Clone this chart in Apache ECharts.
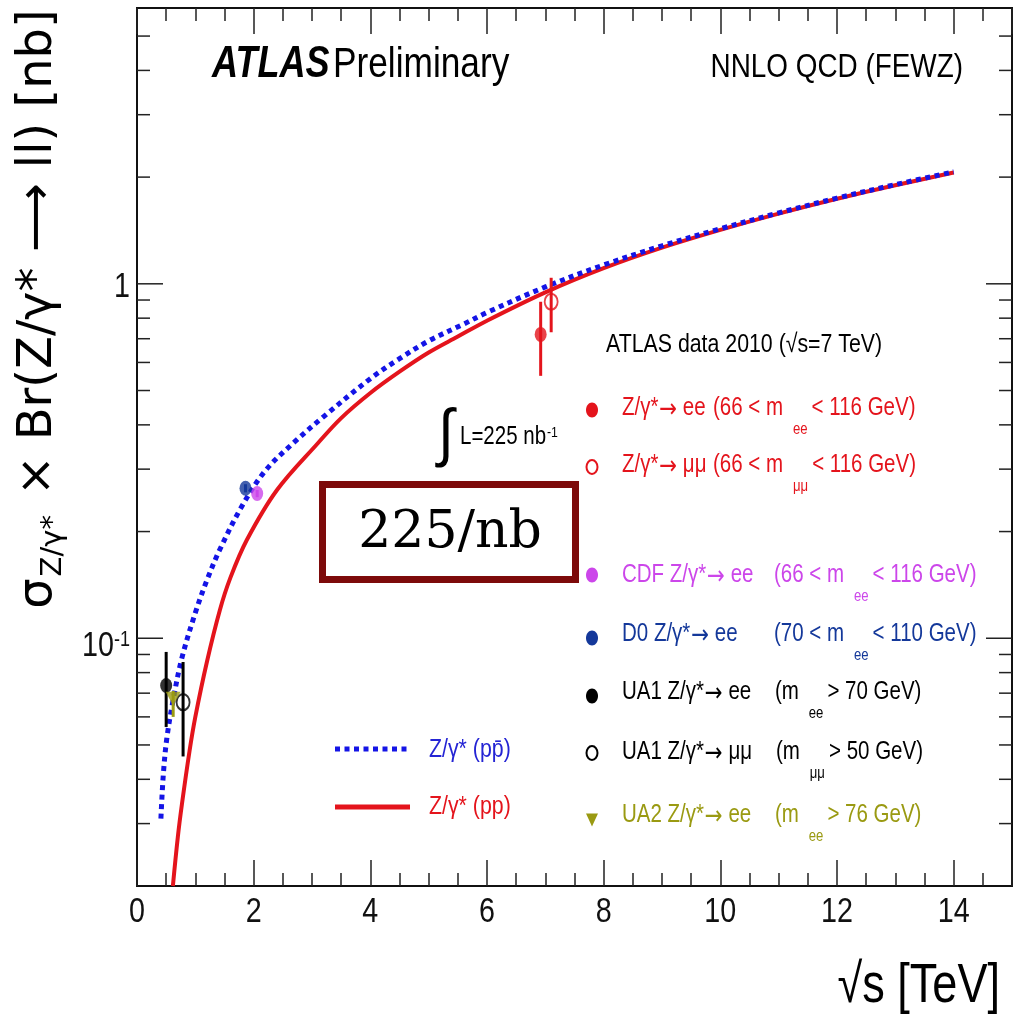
<!DOCTYPE html>
<html>
<head>
<meta charset="utf-8">
<script src="https://cdn.jsdelivr.net/npm/echarts@6/dist/echarts.min.js"></script>
<style>
  html, body { margin: 0; padding: 0; background: #fff; }
  #chart { width: 1024px; height: 1021px; }
</style>
</head>
<body>
<div id="chart"></div>
<script>
// NNLO QCD (FEWZ) predictions: sqrt(s) [TeV] vs sigma x BR(Z/gamma* -> ll) [nb]
const ppSqrtS    = [0.615, 0.70, 0.77, 0.90, 1.00, 1.20, 1.42, 1.60, 1.88, 2.40, 3.10, 3.50, 4.00, 4.50, 5.00, 5.50, 6.00, 7.00, 8.00, 9.00, 10.0, 11.0, 12.0, 13.0, 14.0];
const ppSigma    = [0.020, 0.0275, 0.034, 0.048, 0.060, 0.086, 0.120, 0.148, 0.189, 0.262, 0.355, 0.418, 0.492, 0.565, 0.640, 0.710, 0.787, 0.946, 1.107, 1.265, 1.420, 1.578, 1.738, 1.897, 2.060];
const ppbarSqrtS = [0.41, 0.45, 0.51, 0.62, 0.77, 1.00, 1.20, 1.42, 1.80, 2.20, 2.70, 3.20, 4.00, 4.50, 5.00, 5.60, 6.00, 7.00, 8.00, 9.00, 10.0, 11.0, 12.0, 13.0, 14.0];
const ppbarSigma = [0.031, 0.041, 0.052, 0.067, 0.088, 0.118, 0.146, 0.178, 0.236, 0.297, 0.358, 0.422, 0.540, 0.615, 0.690, 0.770, 0.830, 0.980, 1.130, 1.280, 1.430, 1.585, 1.745, 1.905, 2.070];

// Measurements (points are drawn slightly displaced in sqrt(s) for readability)
const expNames   = ['ATLAS ee', 'ATLAS mumu', 'CDF ee', 'D0 ee', 'UA1 ee', 'UA1 mumu', 'UA2 ee'];
const expSqrtS   = [6.92, 7.10, 2.06, 1.86, 0.50, 0.79, 0.62];
const expSigma   = [0.720, 0.890, 0.256, 0.265, 0.0736, 0.0660, 0.0675];
const expErrLow  = [0.550, 0.730, 0.250, 0.258, 0.0562, 0.0464, 0.0600];
const expErrHigh = [0.890, 1.040, 0.262, 0.272, 0.0915, 0.0857, 0.0710];

// Axis ticks and labels
const xTickValues  = [0, 2, 4, 6, 8, 10, 12, 14];
const xTickLabels  = ['0', '2', '4', '6', '8', '10', '12', '14'];
const yMajorTicks  = [0.1, 1];
const yTickLabels  = ['{n|10}{sup|-1}', '{n|1}'];
const yMinorTicks  = [0.03, 0.04, 0.05, 0.06, 0.07, 0.08, 0.09,
                      0.2, 0.3, 0.4, 0.5, 0.6, 0.7, 0.8, 0.9,
                      2, 3, 4, 5];

const X_MIN = 0, X_MAX = 15, Y_MIN = 0.02, Y_MAX = 6;

const SANS = "'Liberation Sans', Arial, sans-serif";
const CONDENSE = 0.82;   // horizontal squeeze for the condensed Helvetica look
const RED = '#e4141c', BLUE = '#1414e6', MAGENTA = '#cc46ea', D0BLUE = '#14389a', OLIVE = '#9a9a12';

const expStyle = [
  { color: RED,     symbol: 'circle', open: false },
  { color: RED,     symbol: 'circle', open: true  },
  { color: MAGENTA, symbol: 'circle', open: false },
  { color: D0BLUE,  symbol: 'circle', open: false },
  { color: '#000',  symbol: 'circle', open: false },
  { color: '#000',  symbol: 'circle', open: true  },
  { color: OLIVE,   symbol: 'triangle', open: false, rotate: 180 }
];
const yLabelShift = [8.5, 4.5];   // label baseline nudges for 10^-1 and 1

const chart = echarts.init(document.getElementById('chart'), null, { renderer: 'canvas', width: 1024, height: 1021 });

function xAxisDef(position, interval, tickLen) {
  return {
    type: 'value', min: X_MIN, max: X_MAX, interval: interval, position: position,
    axisLine: { show: false },
    splitLine: { show: false },
    axisLabel: { show: false },
    axisTick: { show: true, inside: true, length: tickLen, lineStyle: { color: '#222', width: 1.5 } }
  };
}

// Tick marks of the logarithmic axis, drawn on the left and right frame edges
function yTickSeries(values, len) {
  return {
    type: 'custom', coordinateSystem: 'cartesian2d', xAxisIndex: 0, yAxisIndex: 0,
    silent: true, clip: false, z: 5,
    data: values.map(v => [X_MIN, v]),
    encode: { x: 0, y: 1 },
    renderItem: (params, api) => {
      const v = api.value(1);
      const l = api.coord([X_MIN, v]);
      const r = api.coord([X_MAX, v]);
      const st = { stroke: '#222', lineWidth: 1.5 };
      return { type: 'group', children: [
        { type: 'line', shape: { x1: l[0], y1: l[1], x2: l[0] + len, y2: l[1] }, style: st },
        { type: 'line', shape: { x1: r[0] - len, y1: r[1], x2: r[0], y2: r[1] }, style: st }
      ] };
    }
  };
}

// Tick labels in a condensed face
const xLabelSeries = {
  type: 'custom', coordinateSystem: 'cartesian2d', xAxisIndex: 0, yAxisIndex: 0,
  silent: true, clip: false, z: 5,
  data: xTickValues.map(v => [v, Y_MIN]),
  encode: { x: 0, y: 1 },
  renderItem: (params, api) => {
    const p = api.coord([api.value(0), Y_MIN]);
    return { type: 'text', x: p[0], y: p[1] + 26, scaleX: CONDENSE,
      style: { text: xTickLabels[params.dataIndex], font: '35px ' + SANS, fill: '#111',
               align: 'center', textAlign: 'center', verticalAlign: 'middle', textVerticalAlign: 'middle' } };
  }
};

const yLabelSeries = {
  type: 'custom', coordinateSystem: 'cartesian2d', xAxisIndex: 0, yAxisIndex: 0,
  silent: true, clip: false, z: 5,
  data: yMajorTicks.map(v => [X_MIN, v]),
  encode: { x: 0, y: 1 },
  renderItem: (params, api) => {
    const p = api.coord([X_MIN, api.value(1)]);
    return { type: 'text', x: p[0] - 7, y: p[1] + yLabelShift[params.dataIndex], scaleX: CONDENSE,
      style: { text: yTickLabels[params.dataIndex],
               align: 'right', textAlign: 'right', verticalAlign: 'middle', textVerticalAlign: 'middle',
               rich: {
                 n:   { fontSize: 35, fontFamily: SANS, fill: '#111', color: '#111', lineHeight: 36, verticalAlign: 'top' },
                 sup: { fontSize: 22, fontFamily: SANS, fill: '#111', color: '#111', lineHeight: 16, verticalAlign: 'top' }
               } } };
  }
};

const errorBarSeries = {
  type: 'custom', coordinateSystem: 'cartesian2d', xAxisIndex: 0, yAxisIndex: 0,
  silent: true, z: 6,
  data: expSqrtS.map((x, i) => [x, expErrLow[i], expErrHigh[i]]),
  encode: { x: 0, y: [1, 2] },
  renderItem: (params, api) => {
    const x = api.value(0);
    const lo = api.coord([x, api.value(1)]);
    const hi = api.coord([x, api.value(2)]);
    return { type: 'line', shape: { x1: lo[0], y1: lo[1], x2: hi[0], y2: hi[1] },
             style: { stroke: expStyle[params.dataIndex].color, lineWidth: 3 } };
  }
};

const pointSeries = expNames.map((name, i) => {
  const s = expStyle[i];
  return {
    name: name, type: 'scatter', xAxisIndex: 0, yAxisIndex: 0, z: 7,
    symbol: s.symbol, symbolRotate: s.rotate || 0,
    symbolSize: s.symbol === 'triangle' ? [15, 14] : (s.open ? [13, 16] : [12, 15]),
    itemStyle: s.open ? { color: 'rgba(0,0,0,0)', borderColor: s.color, borderWidth: 2 }
                      : { color: s.color },
    data: [[expSqrtS[i], expSigma[i]]]
  };
});

// ---------- text annotations ----------
function txt(x, y, text, o) {
  o = o || {};
  return {
    type: 'text', z: 20, silent: true, x: x, y: y,
    scaleX: o.scaleX === undefined ? CONDENSE : o.scaleX,
    style: {
      x: 0, y: 0, text: text,
      fill: o.color || '#000',
      font: (o.style || 'normal') + ' ' + (o.weight || 'normal') + ' ' + (o.size || 25) + 'px ' + (o.family || SANS),
      align: o.align || 'left', textAlign: o.align || 'left',
      verticalAlign: 'middle', textVerticalAlign: 'middle'
    }
  };
}

// legend line; "sub" fragments hang below the baseline, "a" is the arrow
function richRow(x, yCenter, parts, color) {
  const text = parts.map(p => '{' + p[0] + '|' + p[1] + '}').join('');
  return {
    type: 'text', z: 20, silent: true, x: x, y: yCenter - 14, scaleX: CONDENSE,
    style: {
      x: 0, y: 0, text: text,
      align: 'left', textAlign: 'left', verticalAlign: 'top', textVerticalAlign: 'top',
      rich: {
        t:   { fontSize: 25, fontFamily: SANS, fill: color, color: color, lineHeight: 28, verticalAlign: 'top' },
        a:   { fontSize: 26, fontFamily: "'DejaVu Sans', sans-serif", fill: color, color: color, lineHeight: 28, verticalAlign: 'top', padding: [1, 0, 0, 1] },
        sub: { fontSize: 16, fontFamily: SANS, fill: color, color: color, lineHeight: 18, verticalAlign: 'top', padding: [26, 5, 0, 12] }
      }
    }
  };
}

function marker(cx, cy, color, kind) {
  if (kind === 'tri') {
    return { type: 'polygon', z: 20, silent: true,
             shape: { points: [[cx - 6, cy - 6.5], [cx + 6, cy - 6.5], [cx, cy + 6.5]] },
             style: { fill: color } };
  }
  return { type: 'ellipse', z: 20, silent: true,
           shape: { cx: cx, cy: cy, rx: kind === 'open' ? 5.5 : 6, ry: kind === 'open' ? 7 : 7.5 },
           style: kind === 'open' ? { fill: 'none', stroke: color, lineWidth: 2 } : { fill: color } };
}

const ARROW_EE = [['t', 'Z/γ*'], ['a', '→'], ['t', ' ee']];
const ARROW_MM = [['t', 'Z/γ*'], ['a', '→'], ['t', ' μμ']];

const graphics = [
  txt(212, 65, 'ATLAS', { size: 44, weight: 'bold', style: 'italic' }),
  txt(333, 65, 'Preliminary', { size: 43 }),
  txt(963, 68, 'NNLO QCD (FEWZ)', { size: 34, align: 'right' }),

  txt(606, 345, 'ATLAS data 2010 (√s=7 TeV)', { size: 26 }),

  marker(592, 410, RED, 'fill'),
  richRow(622, 410, ARROW_EE, RED),
  richRow(713, 410, [['t', '(66 < m'], ['sub', 'ee'], ['t', '< 116 GeV)']], RED),

  marker(592, 467, RED, 'open'),
  richRow(622, 467, ARROW_MM, RED),
  richRow(713, 467, [['t', '(66 < m'], ['sub', 'μμ'], ['t', '< 116 GeV)']], RED),

  marker(592, 575, MAGENTA, 'fill'),
  richRow(622, 577, [['t', 'CDF ']].concat(ARROW_EE), MAGENTA),
  richRow(774, 577, [['t', '(66 < m'], ['sub', 'ee'], ['t', '< 116 GeV)']], MAGENTA),

  marker(592, 638, D0BLUE, 'fill'),
  richRow(622, 636, [['t', 'D0 ']].concat(ARROW_EE), D0BLUE),
  richRow(774, 636, [['t', '(70 < m'], ['sub', 'ee'], ['t', '< 110 GeV)']], D0BLUE),

  marker(592, 696, '#000', 'fill'),
  richRow(622, 694, [['t', 'UA1 ']].concat(ARROW_EE), '#000'),
  richRow(775, 694, [['t', '(m'], ['sub', 'ee'], ['t', '> 70 GeV)']], '#000'),

  marker(592, 753, '#000', 'open'),
  richRow(622, 754, [['t', 'UA1 ']].concat(ARROW_MM), '#000'),
  richRow(776, 754, [['t', '(m'], ['sub', 'μμ'], ['t', '> 50 GeV)']], '#000'),

  marker(592, 820, OLIVE, 'tri'),
  richRow(622, 817, [['t', 'UA2 ']].concat(ARROW_EE), OLIVE),
  richRow(775, 817, [['t', '(m'], ['sub', 'ee'], ['t', '> 76 GeV)']], OLIVE),

  // integrated luminosity
  txt(446, 436, '∫', { size: 64, align: 'center', scaleX: 0.9 }),
  {
    type: 'text', z: 20, silent: true, x: 460, y: 425, scaleX: CONDENSE,
    style: {
      x: 0, y: 0, text: '{t|L=225 nb}{sup|-1}',
      align: 'left', textAlign: 'left', verticalAlign: 'top', textVerticalAlign: 'top',
      rich: {
        t:   { fontSize: 25, fontFamily: SANS, fill: '#000', color: '#000', lineHeight: 28, verticalAlign: 'top' },
        sup: { fontSize: 15, fontFamily: SANS, fill: '#000', color: '#000', lineHeight: 8, verticalAlign: 'top', padding: [0, 0, 0, 1] }
      }
    }
  },

  // boxed label
  { type: 'rect', z: 21, silent: true,
    shape: { x: 322.5, y: 484.5, width: 253, height: 95 },
    style: { fill: '#fff', stroke: '#7d0a0a', lineWidth: 7 } },
  { type: 'text', z: 22, silent: true,
    style: { x: 450, y: 533, text: '225/nb', fill: '#000',
             font: "normal normal 52px 'DejaVu Serif', serif",
             align: 'center', textAlign: 'center', verticalAlign: 'middle', textVerticalAlign: 'middle' } },

  // curve legend
  { type: 'line', z: 20, silent: true, shape: { x1: 335, y1: 749, x2: 410, y2: 749 },
    style: { stroke: BLUE, lineWidth: 5, lineDash: [5, 4.5] } },
  txt(429, 750, 'Z/γ* (pp\u0304)', { size: 26, color: '#2424d4' }),
  { type: 'line', z: 20, silent: true, shape: { x1: 335, y1: 807, x2: 410, y2: 807 },
    style: { stroke: RED, lineWidth: 5 } },
  txt(429, 807, 'Z/γ* (pp)', { size: 26, color: RED }),

  // axis titles
  {
    type: 'text', z: 20, silent: true, x: 40, y: 309, rotation: Math.PI / 2,
    style: {
      x: 0, y: 0, text: '{m|σ}{sub|Z/γ*}{m| × Br(Z/γ* ⟶ ll) [nb]}',
      align: 'center', textAlign: 'center', verticalAlign: 'middle', textVerticalAlign: 'middle',
      rich: {
        m:   { fontSize: 48, fontFamily: "'DejaVu Sans', sans-serif", fill: '#000', color: '#000', lineHeight: 50, verticalAlign: 'top' },
        sub: { fontSize: 29, fontFamily: "'DejaVu Sans', sans-serif", fill: '#000', color: '#000', lineHeight: 30, verticalAlign: 'top', padding: [24, 4, 0, 2] }
      }
    }
  },
  txt(1000, 987, '√s [TeV]', { size: 55, align: 'right' })
];

const option = {
  animation: false,
  backgroundColor: '#fff',
  grid: { left: 137, right: 12, top: 8, bottom: 135, show: true, borderColor: '#111', borderWidth: 2,
          backgroundColor: 'rgba(0,0,0,0)', containLabel: false, outerBoundsMode: 'none' },
  xAxis: [
    xAxisDef('bottom', 2, 26),
    xAxisDef('bottom', 0.5, 13),
    xAxisDef('top', 2, 26),
    xAxisDef('top', 0.5, 13)
  ],
  yAxis: [{
    type: 'log', logBase: 10, min: Y_MIN, max: Y_MAX, position: 'left',
    axisLine: { show: false }, axisTick: { show: false }, splitLine: { show: false },
    minorTick: { show: false }, axisLabel: { show: false }
  }],
  series: [
    yTickSeries(yMajorTicks, 26),
    yTickSeries(yMinorTicks, 13),
    xLabelSeries,
    yLabelSeries,
    {
      name: 'Z/γ* (pp)', type: 'line', xAxisIndex: 0, yAxisIndex: 0, z: 3,
      showSymbol: false, smooth: 0.35, silent: true,
      lineStyle: { color: RED, width: 4 },
      data: ppSqrtS.map((x, i) => [x, ppSigma[i]])
    },
    {
      name: 'Z/γ* (ppbar)', type: 'line', xAxisIndex: 0, yAxisIndex: 0, z: 4,
      showSymbol: false, smooth: 0.35, silent: true,
      lineStyle: { color: BLUE, width: 5, type: [5, 4.5], cap: 'butt' },
      data: ppbarSqrtS.map((x, i) => [x, ppbarSigma[i]])
    },
    errorBarSeries
  ].concat(pointSeries),
  graphic: { elements: graphics }
};

chart.setOption(option);
</script>
</body>
</html>
